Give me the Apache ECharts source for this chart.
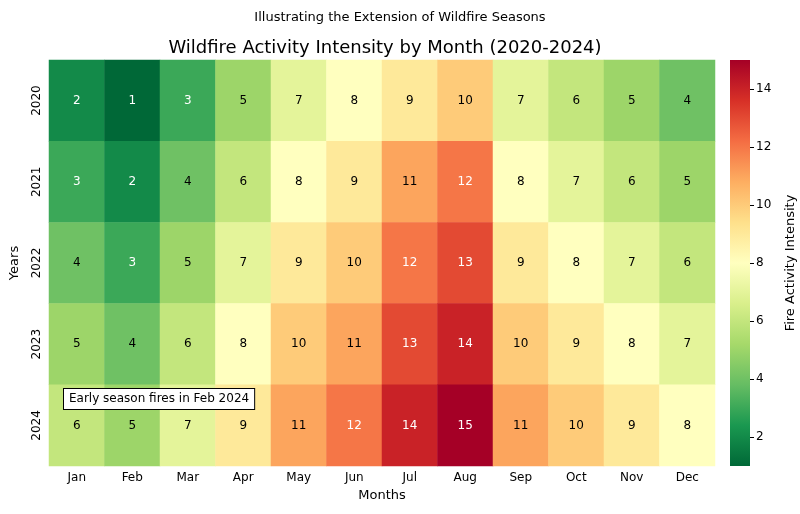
<!DOCTYPE html>
<html><head><meta charset="utf-8">
<script src="https://cdn.jsdelivr.net/npm/echarts@6/dist/echarts.min.js"></script>
<style>html,body{margin:0;padding:0;background:#fff}#c{width:800px;height:514px}</style>
</head><body><div id="c"></div>
<script>
const months=['Jan','Feb','Mar','Apr','May','Jun','Jul','Aug','Sep','Oct','Nov','Dec'];
const years=['2020','2021','2022','2023','2024'];
const v2020=[2,1,3,5,7,8,9,10,7,6,5,4];
const v2021=[3,2,4,6,8,9,11,12,8,7,6,5];
const v2022=[4,3,5,7,9,10,12,13,9,8,7,6];
const v2023=[5,4,6,8,10,11,13,14,10,9,8,7];
const v2024=[6,5,7,9,11,12,14,15,11,10,9,8];
const cbTicks=[2,4,6,8,10,12,14];
const rows=[v2020,v2021,v2022,v2023,v2024];
const pal=['#006837','#1a9850','#66bd63','#a6d96a','#d9ef8b','#ffffbf','#fee08b','#fdae61','#f46d43','#d73027','#a50026'];
const data=[];
rows.forEach((r,y)=>r.forEach((v,x)=>data.push({value:[x,y,v],label:{color:(v<=3||v>=12)?'#fff':'#000'}})));
const F='DejaVu Sans';
const chart=echarts.init(document.getElementById('c'));
chart.setOption({
  textStyle:{fontFamily:F},
  title:[{text:'Illustrating the Extension of Wildfire Seasons',left:'center',top:6,textStyle:{fontSize:13,fontWeight:'normal',color:'#000',fontFamily:F}},
         {text:'Wildfire Activity Intensity by Month (2020-2024)',left:380,textAlign:'center',top:34,textStyle:{fontSize:18,fontWeight:'normal',color:'#000',fontFamily:F}}],
  grid:[{left:45,right:85,top:60,bottom:48},{left:730,width:20,top:60,bottom:48}],
  xAxis:[{type:'category',data:months,gridIndex:0,name:'Months',nameLocation:'middle',nameGap:22,nameTextStyle:{fontSize:13,color:'#000'},
          axisLine:{show:false},axisTick:{length:4,alignWithLabel:true,lineStyle:{color:'#000'}},axisLabel:{fontSize:12,color:'#000',margin:6}},
         {type:'category',data:['c'],gridIndex:1,show:false}],
  yAxis:[{type:'category',data:years,inverse:true,gridIndex:0,name:'Years',nameLocation:'middle',nameGap:28,nameTextStyle:{fontSize:13,color:'#000'},
          axisLine:{show:false},axisTick:{length:4,alignWithLabel:true,lineStyle:{color:'#000'}},axisLabel:{fontSize:12,color:'#000',rotate:90,margin:6}},
         {type:'value',gridIndex:1,min:1,max:15,position:'right',name:'Fire Activity Intensity',nameLocation:'middle',nameGap:34,nameRotate:90,
          nameTextStyle:{fontSize:13,color:'#000'},splitLine:{show:false},axisLine:{show:false},
          axisTick:{show:true,length:4,customValues:cbTicks,lineStyle:{color:'#000'}},
          axisLabel:{fontSize:12,color:'#000',margin:6,customValues:cbTicks}}],
  visualMap:{show:false,min:1,max:15,seriesIndex:0,inRange:{color:pal}},
  series:[{type:'heatmap',data:data,xAxisIndex:0,yAxisIndex:0,
    label:{show:true,fontSize:12,fontFamily:F,formatter:p=>p.value[2]},itemStyle:{borderWidth:0}},
   {type:'bar',xAxisIndex:1,yAxisIndex:1,data:[15],barWidth:'100%',silent:true,
    itemStyle:{color:new echarts.graphic.LinearGradient(0,1,0,0,pal.map((c,i)=>({offset:i/(pal.length-1),color:c})))}}],
  graphic:[{type:'text',left:63,top:388,z:1000,zlevel:1,style:{text:'Early season fires in Feb 2024',fontSize:12,fontFamily:F,fill:'#000',backgroundColor:'#fff',borderColor:'#000',borderWidth:1,padding:[4,5]}}]
});
</script></body></html>
